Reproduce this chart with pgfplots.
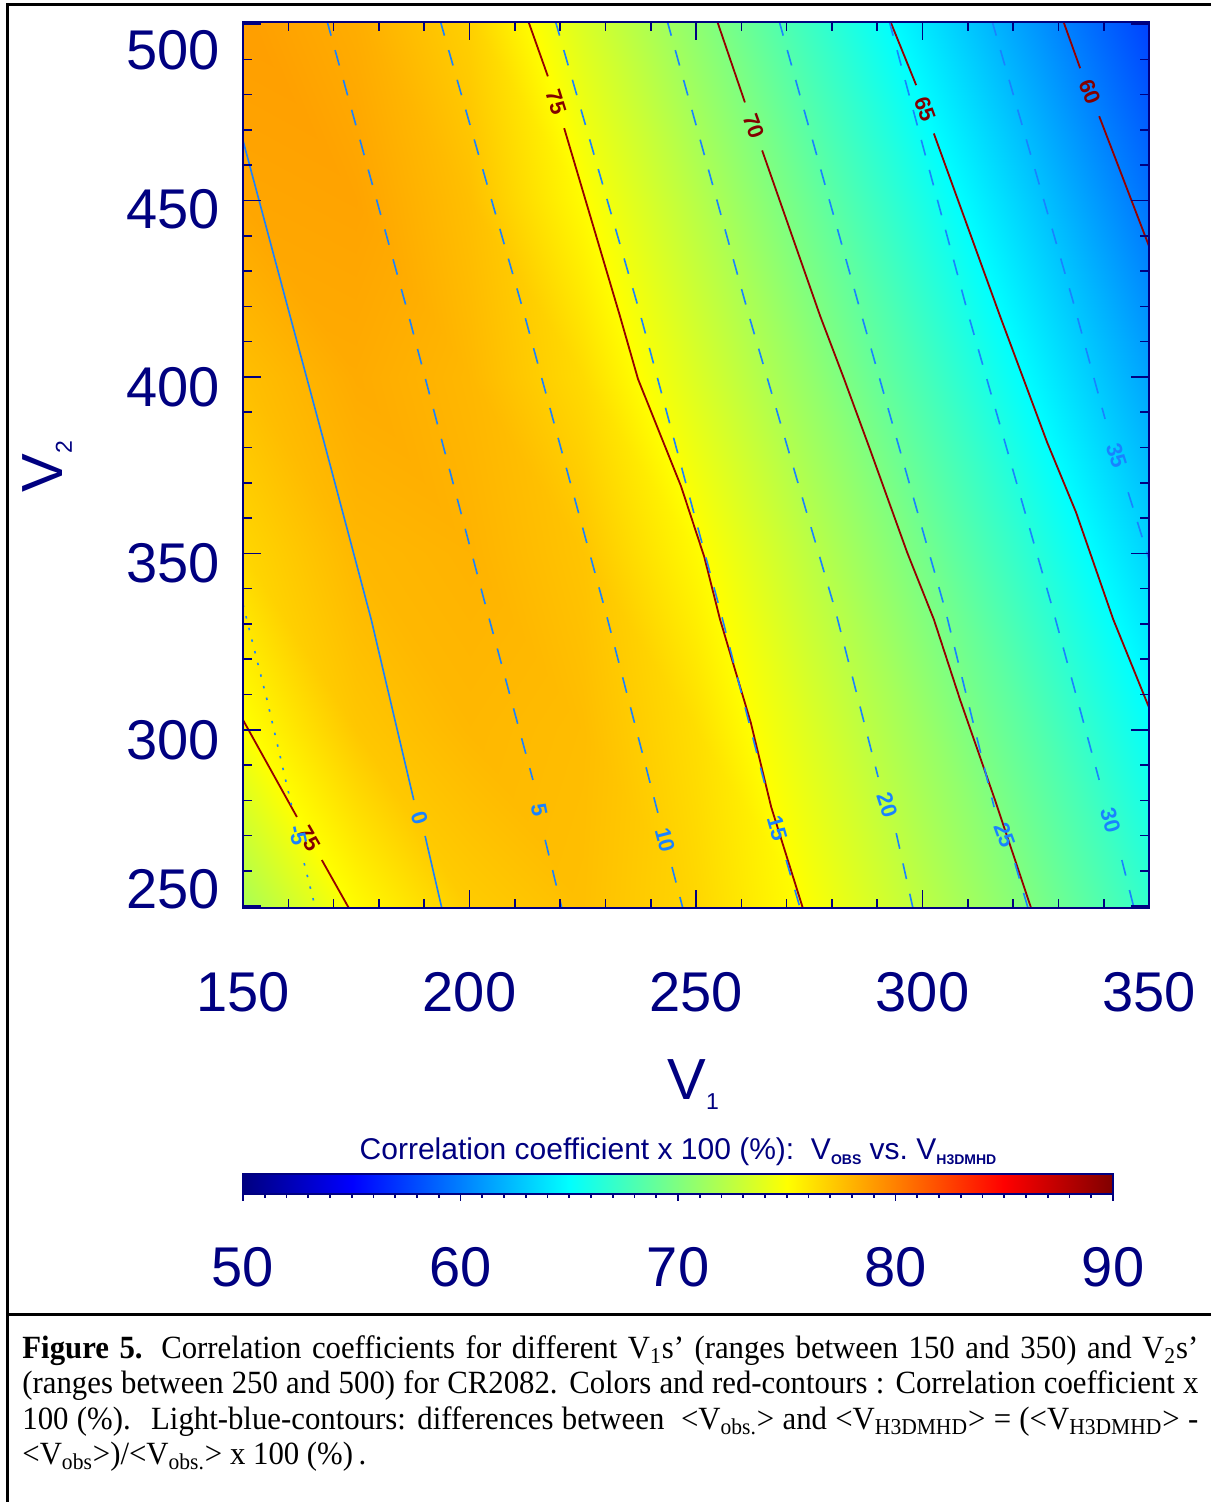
\documentclass[border=0pt]{standalone}
\usepackage{fontspec}
\setmainfont{Liberation Serif}
\newfontfamily\axfont{Liberation Sans}
\newfontfamily\capfont{Liberation Serif}[FakeStretch=0.95]
\usepackage{pgfplots}
\usepackage{pgfplotstable}
\pgfplotsset{compat=1.18}

\definecolor{idlnavy}{RGB}{0,0,128}
\definecolor{corred}{RGB}{150,0,0}
\definecolor{corlab}{RGB}{130,0,0}
\definecolor{difblue}{RGB}{25,130,255}

% correlation coefficient x 100 on a V1 x V2 grid
\pgfplotstableread{
x   y     c
150 249.0 71.6
175 249.0 75.1
200 249.0 77.0
225 249.0 77.5
250 249.0 76.6
275 249.0 74.9
300 249.0 72.4
325 249.0 69.9
350 249.0 67.0
150 300 74.9
175 300 77.2
200 300 77.8
225 300 77.6
250 300 76.3
275 300 73.7
300 300 71.1
325 300 68.3
350 300 65.2
150 350 76.6
175 350 77.8
200 350 78.0
225 350 77.3
250 350 75.2
275 350 72.4
300 350 69.6
325 350 66.5
350 350 63.3
150 400 77.5
175 400 78.3
200 400 77.8
225 400 76.4
250 400 73.6
275 400 70.8
300 400 67.8
325 400 64.6
350 400 61.4
150 450 78.5
175 450 78.6
200 450 77.5
225 450 75.1
250 450 72.2
275 450 69.2
300 450 66.0
325 450 62.8
350 450 59.5
150 502 78.8
175 502 78.2
200 502 76.8
225 502 73.5
250 502 70.5
275 502 67.3
300 502 64.0
325 502 60.8
350 502 57.5
}\corrgrid

\newcommand\tl[1]{\axfont\fontsize{28}{30}\selectfont #1}
\newcommand\yl[2]{\smash{\raisebox{#1}{#2}}}
\newcommand\capline[1]{\hbox to 588pt{#1}}

\begin{document}
\begin{tikzpicture}[x=1pt,y=1pt,
  cred/.style={corred, line width=0.9pt},
  cblu/.style={difblue, line width=0.8pt},
  cdsh/.style={cblu, dash pattern=on 8pt off 7.5pt},
  cdot/.style={cblu, dash pattern=on 1.2pt off 4.8pt},
  rlab/.style={pos=0.5, sloped, inner sep=0pt, text=corlab, font=\axfont\bfseries\fontsize{11}{11}\selectfont},
  blab/.style={pos=0.5, sloped, inner sep=0pt, text=difblue, font=\axfont\bfseries\fontsize{11}{11}\selectfont},
]
\useasboundingbox (0,0) rectangle (605.5,751);
\draw[line width=1.5pt] (3.5,0) -- (3.5,748.5) -- (605.5,748.5);
\draw[line width=1.5pt] (3.5,93.5) -- (605.5,93.5);

\begin{axis}[
  at={(121.5pt,297pt)}, anchor=south west,
  scale only axis, width=453pt, height=443pt,
  xmin=150, xmax=350, ymin=249.5, ymax=500.6,
  colormap/jet, point meta min=50, point meta max=90,
  axis on top,
  axis line style={idlnavy, line width=0.8pt},
  every tick/.style={idlnavy, line width=0.8pt},
  tick align=inside,
  major tick length=9pt, minor tick length=4.5pt,
  xtick={150,200,250,300,350}, minor x tick num=4,
  ytick={250,300,350,400,450,500}, minor y tick num=4,
  xticklabels={150,200,250,300,350},
  yticklabels={\yl{-0.9pt}{250},\yl{-14.9pt}{300},\yl{-14.4pt}{350},
               \yl{-14.9pt}{400},\yl{-13.9pt}{450},\yl{-22.9pt}{500}},
  xticklabel style={font=\tl, text=idlnavy, anchor=north, inner sep=0pt, yshift=-32pt},
  yticklabel style={font=\tl, text=idlnavy, anchor=east, inner sep=0pt, xshift=-11.5pt},
  xlabel={V\raisebox{-5pt}{\fontsize{11.5}{12}\selectfont 1}},
  ylabel={V\raisebox{-4.5pt}{\fontsize{11.5}{12}\selectfont 2}},
  xlabel style={font=\axfont\fontsize{29}{30}\selectfont, text=idlnavy,
    at={(axis description cs:0.497,-0.2167)}, anchor=base},
  ylabel style={font=\axfont\fontsize{29}{30}\selectfont, text=idlnavy,
    at={(axis description cs:-0.1987,0.498)}, anchor=base},
]
\addplot[surf, shader=interp, mesh/cols=9, point meta=\thisrow{c}] table[x=x, y=y] {\corrgrid};

% red contours: correlation coefficient x 100
\addplot[cred] coordinates {(212.9,501.1) (217.3,485.2)};
\addplot[draw=none] coordinates {(217.3,485.2) (220.9,470.5)} node[rlab] {75};
\addplot[cred] coordinates {(220.9,470.5) (233.2,417.3) (237.2,399.4) (246.7,369.0) (251.8,349.1)
  (255.3,331.3) (262.1,302.0) (266.6,278.1) (273.6,249.4)};
\addplot[cred] coordinates {(150,302.8) (161.9,275.3)};
\addplot[draw=none] coordinates {(161.9,275.3) (167.4,263.1)} node[rlab] {75};
\addplot[cred] coordinates {(167.4,263.1) (173.4,249.4)};
\addplot[cred] coordinates {(254.6,501.1) (260.8,477.8)};
\addplot[draw=none] coordinates {(260.8,477.8) (264.6,464.2)} node[rlab] {70};
\addplot[cred] coordinates {(264.6,464.2) (277.4,417.3) (282.7,399.4) (288.4,379.5) (296.6,350.3)
  (302.5,331.3) (308.3,308.5) (316.0,280.1) (324.0,249.4)};
\addplot[cred] coordinates {(292.8,501.1) (298.6,482.7)};
\addplot[draw=none] coordinates {(298.6,482.7) (302.5,469.0)} node[rlab] {65};
\addplot[cred] coordinates {(302.5,469.0) (317.1,417.3) (327.5,381.5) (333.9,361.6) (342.1,331.3) (350.2,305.7)};
\addplot[cred] coordinates {(331.0,501.1) (334.8,487.5)};
\addplot[draw=none] coordinates {(334.8,487.5) (339.0,473.9)} node[rlab] {60};
\addplot[cred] coordinates {(339.0,473.9) (350.2,436.4)};

% light-blue contours: difference of mean speeds (%)
\addplot[cdot] coordinates {(150,335.5) (155.3,308.5) (160.8,278.1)};
\addplot[draw=none] coordinates {(160.8,278.1) (163.5,262.2)} node[blab] {-5};
\addplot[cdot] coordinates {(163.5,262.2) (166.0,249.4)};
\addplot[cblu] coordinates {(150,467.0) (160.2,418.2) (167.9,381.5) (178.3,331.3) (187.7,280.1)};
\addplot[draw=none] coordinates {(187.7,280.1) (190.2,269.9)} node[blab] {0};
\addplot[cblu] coordinates {(190.2,269.9) (193.9,249.4)};
\addplot[cdsh] coordinates {(168.5,501.1) (186.4,418.2) (203.2,336.9) (214.0,285.8)};
\addplot[draw=none] coordinates {(214.0,285.8) (216.7,268.8)} node[blab] {5};
\addplot[cdsh] coordinates {(216.7,268.8) (220.4,249.4)};
\addplot[cdsh] coordinates {(193.5,501.1) (212.0,418.2) (230.1,333.2) (241.6,276.4)};
\addplot[draw=none] coordinates {(241.6,276.4) (244.7,261.1)} node[blab] {10};
\addplot[cdsh] coordinates {(244.7,261.1) (247.1,249.4)};
\addplot[cdsh] coordinates {(218.9,501.1) (237.6,418.2) (255.7,332.1) (265.9,281.0)};
\addplot[draw=none] coordinates {(265.9,281.0) (269.9,263.1)} node[blab] {15};
\addplot[cdsh] coordinates {(269.9,263.1) (273.0,249.4)};
\addplot[cdsh] coordinates {(243.6,501.1) (261.5,418.2) (280.7,334.1) (290.2,286.6)};
\addplot[draw=none] coordinates {(290.2,286.6) (294.2,270.7)} node[blab] {20};
\addplot[cdsh] coordinates {(294.2,270.7) (297.9,249.4)};
\addplot[cdsh] coordinates {(268.3,501.1) (286.4,418.2) (305.0,334.1) (315.8,278.1)};
\addplot[draw=none] coordinates {(315.8,278.1) (320.4,262.2)} node[blab] {25};
\addplot[cdsh] coordinates {(320.4,262.2) (323.3,249.4)};
\addplot[cdsh] coordinates {(292.6,501.1) (310.0,418.2) (328.6,334.9) (339.0,285.8)};
\addplot[draw=none] coordinates {(339.0,285.8) (344.0,263.1)} node[blab] {30};
\addplot[cdsh] coordinates {(344.0,263.1) (346.7,249.4)};
\addplot[cdsh] coordinates {(315.3,501.1) (333.2,421.6) (340.3,388.1)};
\addplot[draw=none] coordinates {(340.3,388.1) (345.4,367.3)} node[blab] {35};
\addplot[cdsh] coordinates {(345.4,367.3) (350.5,346.3)};
\end{axis}

% colour bar
\begin{axis}[
  at={(121.5pt,154pt)}, anchor=south west,
  scale only axis, width=435pt, height=10pt,
  xmin=50, xmax=90, ymin=0, ymax=1,
  colormap/jet, point meta min=50, point meta max=90,
  axis on top,
  axis line style={idlnavy, line width=0.8pt},
  every tick/.style={idlnavy, line width=0.8pt},
  xtick pos=left, tick align=outside,
  major tick length=3.5pt, minor tick length=2pt,
  xtick={50,60,70,80,90}, minor x tick num=9, ytick=\empty,
  xticklabels={50,60,70,80,90},
  xticklabel style={font=\tl, text=idlnavy, anchor=north, inner sep=0pt, yshift=-23pt},
]
\addplot[surf, shader=interp, mesh/cols=9, point meta=x] coordinates {
  (50,0) (55,0) (60,0) (65,0) (70,0) (75,0) (80,0) (85,0) (90,0)
  (50,1) (55,1) (60,1) (65,1) (70,1) (75,1) (80,1) (85,1) (90,1)};
\end{axis}

\node[anchor=base, inner sep=0pt, text=idlnavy, font=\axfont\fontsize{15}{16}\selectfont] at (339,171)
  {Correlation coefficient x 100 (\%):\ \ V\raisebox{-2.5pt}{\bfseries\fontsize{7}{8}\selectfont OBS} vs.\ V\raisebox{-2.5pt}{\bfseries\fontsize{7}{8}\selectfont H3DMHD}};

\node[anchor=north west, inner sep=0pt, align=left,
      font=\capfont\fontsize{16.2}{17.75}\selectfont] at (11,83.5)
  {\capline{\textbf{Figure 5.} Correlation coefficients for different V\textsubscript{1}s’ (ranges between 150 and 350) and V\textsubscript{2}s’}\\
   \capline{(ranges between 250 and 500) for CR2082. Colors and red-contours : Correlation coefficient x}\\
   \capline{100 (\%). \ Light-blue-contours: differences between \ <V\textsubscript{obs.}> and <V\textsubscript{H3DMHD}> = (<V\textsubscript{H3DMHD}> -}\\
   <V\textsubscript{obs}>)/<V\textsubscript{obs.}> x 100 (\%)\,.};
\end{tikzpicture}
\end{document}
